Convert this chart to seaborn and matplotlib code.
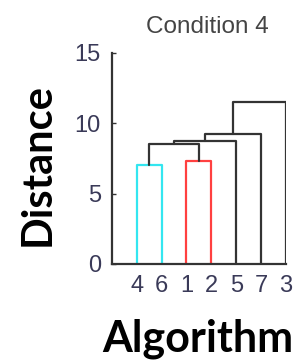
import seaborn as sns
import matplotlib.pyplot as plt

# leaves in dendrogram order
leaf_labels = ['4', '6', '1', '2', '5', '7', '3']
# merges: child ids (0-6 are leaves, 7+ are earlier merges)
merge_pairs = [(0, 1), (2, 3), (7, 8), (9, 4), (10, 5), (11, 6)]
merge_heights = [7.0, 7.3, 8.5, 8.75, 9.2, 11.5]
merge_colors = ['#33e6f0', '#ff4040', '#333333', '#333333', '#333333', '#333333']
y_ticks = [0, 5, 10, 15]

sns.set_style('white')
plt.rcParams['font.family'] = ['Liberation Sans', 'DejaVu Sans']

fig = plt.figure(figsize=(3, 3.6), dpi=100)
ax = fig.add_axes([0.373, 0.267, 0.58, 0.586])

n = len(leaf_labels)
node_x = {i: i + 1 for i in range(n)}
node_y = {i: 0.0 for i in range(n)}

#drawing each U shaped link
for k, ((a, b), h, c) in enumerate(zip(merge_pairs, merge_heights, merge_colors)):
    xs = [node_x[a], node_x[a], node_x[b], node_x[b]]
    ys = [node_y[a], h, h, node_y[b]]
    sns.lineplot(x=xs, y=ys, sort=False, estimator=None, color=c, lw=1.6, ax=ax)
    node_x[n + k] = (node_x[a] + node_x[b]) / 2
    node_y[n + k] = h

ax.set_xlim(0, n)
ax.set_ylim(0, 15)
ax.set_xticks(range(1, n + 1))
ax.set_xticklabels(leaf_labels)
ax.set_yticks(y_ticks)
ax.tick_params(axis='x', length=0, pad=8, labelsize=17, labelcolor='#3a3a58')
ax.tick_params(axis='y', direction='in', length=3, width=1, color='#333333', left=True,
               pad=8, labelsize=17, labelcolor='#3a3a58')

sns.despine(ax=ax)
for s in ['left', 'bottom']:
    ax.spines[s].set_color('#333333')
    ax.spines[s].set_linewidth(1.6)

ax.set_title('Condition 4', fontsize=17.5, color='#444444', x=0.55, pad=14)
ax.set_ylabel('Distance', fontsize=30, fontweight='bold', family='Lato', color='black')
ax.set_xlabel('Algorithm', fontsize=31, fontweight='bold', family='Lato', color='black')
ax.yaxis.set_label_coords(-0.315, 0.47)
ax.xaxis.set_label_coords(0.494, -0.26)

fig.savefig('out.png', dpi=100)
